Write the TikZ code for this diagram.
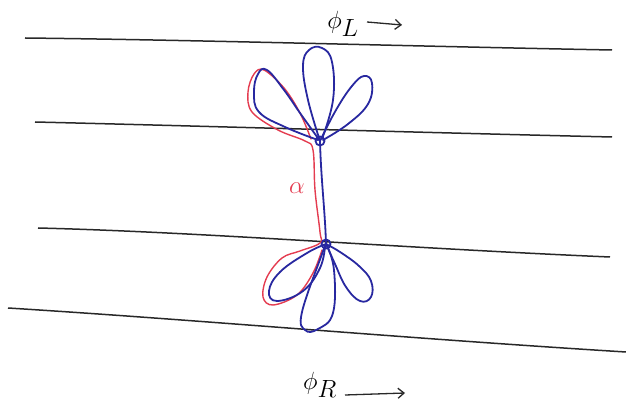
\documentclass[tikz,border=0pt]{standalone}
\usetikzlibrary{arrows.meta}
\definecolor{inkblue}{RGB}{40,40,160}
\definecolor{inkred}{RGB}{228,60,80}
\definecolor{inkgrey}{RGB}{40,40,40}
\begin{document}
\begin{tikzpicture}[x=1pt,y=-1pt,
  sheet/.style={inkgrey,line width=1.5pt},
  bluepen/.style={inkblue,line width=1.8pt,line cap=round,line join=round},
  redpen/.style={inkred,line width=1.4pt,line cap=round,line join=round},
  lbl/.style={inner sep=0pt,font=\fontsize{34}{36}\selectfont},
  arr/.style={inkgrey,line width=1.3pt,-{Straight Barb[length=6pt,width=10pt]}}]
\useasboundingbox (0,0) rectangle (626,419);
% horizontal lines
\draw[sheet] (25,38) .. controls (200,40) and (400,46) .. (612,50);
\draw[sheet] (35,122) .. controls (200,126) and (400,132) .. (612,137);
\draw[sheet] (38,228) .. controls (200,232) and (400,248) .. (610,257);
\draw[sheet] (8,308) .. controls (200,320) and (400,338) .. (626,352);
% vertices
\coordinate (U) at (320,141);
\coordinate (D) at (326,244);
% red path
\draw[redpen] plot[smooth,tension=0.6] coordinates {
 (311,139) (300,113) (284,88) (264,70) (254,74) (248,92) (252,112) (278,130) (305,141) (313,150)
 (315,190) (320,232) (320,243) (300,251) (282,258) (267,277) (263,297) (273,305) (297,295) (313,273) (322,250)};
% blue vertical
\draw[bluepen] (U) .. controls (321,180) and (325,210) .. (D);
% upper petals
\draw[bluepen] plot[smooth,tension=0.7] coordinates {(U) (308,100) (303,66) (309,50) (322,48) (332,62) (333,100) (322,139)};
\draw[bluepen] plot[smooth,tension=0.7] coordinates {(U) (336,110) (352,86) (364,76) (372,83) (368,104) (348,124) (323,140)};
\draw[bluepen] plot[smooth,tension=0.7] coordinates {(U) (300,113) (284,90) (267,70) (258,74) (254,92) (259,112) (285,127) (318,140)};
% lower petals
\draw[bluepen] plot[smooth,tension=0.7] coordinates {(D) (307,253) (280,272) (269,291) (277,301) (303,291) (320,268) (325,246)};
\draw[bluepen] plot[smooth,tension=0.7] coordinates {(D) (322,254) (302,312) (305,330) (318,329) (333,313) (334,270) (327,246)};
\draw[bluepen] plot[smooth,tension=0.7] coordinates {(D) (340,252) (359,266) (371,281) (371,297) (360,301) (346,287) (335,264) (327,246)};
% vertex circles
\node[bluepen,draw,circle,minimum size=9pt,inner sep=0pt] (cu) at (U) {};
\node[bluepen,draw,circle,minimum size=9pt,inner sep=0pt] (cd) at (D) {};
% labels
\node[lbl] (phiL) at (343,24) {$\phi_{L}$};
\coordinate (aL1) at (367,22);
\coordinate (aL2) at (402,25);
\draw[arr] (aL1) -- (aL2);
\node[lbl,inkred,font=\fontsize{28}{30}\selectfont] (alpha) at (297,188) {$\alpha$};
\node[lbl] (phiR) at (320,385) {$\phi_{R}$};
\coordinate (aR1) at (345,395);
\coordinate (aR2) at (405,393);
\draw[arr] (aR1) -- (aR2);
\end{tikzpicture}
\end{document}
